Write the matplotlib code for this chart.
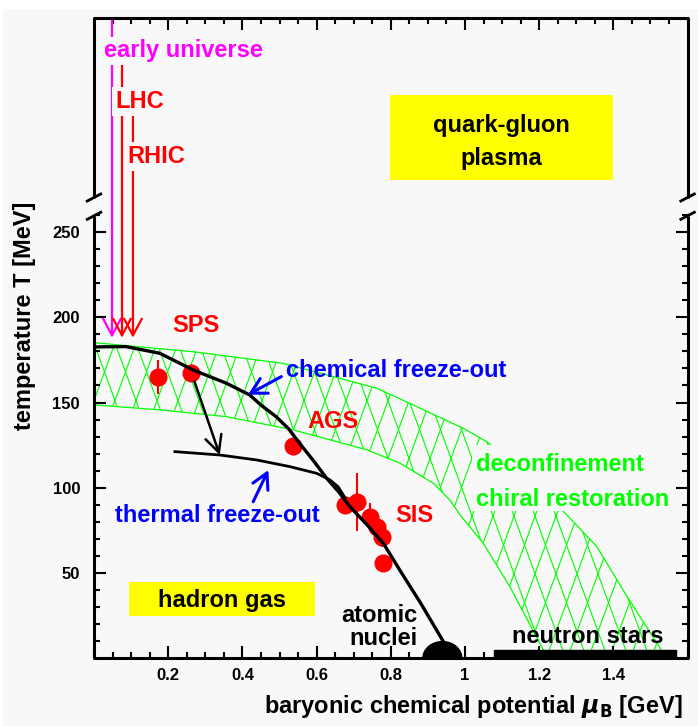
import numpy as np
import matplotlib
matplotlib.use("Agg")
import matplotlib.pyplot as plt
from matplotlib.lines import Line2D
from matplotlib.patches import Ellipse, Rectangle, Polygon
from matplotlib.ticker import MultipleLocator

W, H = 698, 726
BG = "#f8f8f8"
RED, BLUE, GREEN = "#ff0000", "#0000ff", "#00ff00"
MAGENTA, YELLOW = "#ff00ff", "#ffff00"

# chemical freeze-out line  (mu_B [GeV], T [MeV])
chem_mu = [0.0, 0.086, 0.177, 0.267, 0.357, 0.420, 0.450, 0.491, 0.525,
           0.554, 0.590, 0.627, 0.660, 0.690, 0.735, 0.780, 0.824, 0.880,
           0.942, 0.951]
chem_T = [182.6, 182.8, 178.9, 169.1, 161.3, 154.4, 148.5, 141.7, 134.5,
          126.1, 116.3, 105.6, 97.5, 88.9, 78.5, 67.4, 51.8, 32.5,
          9.7, 3.7]

# thermal freeze-out line
therm_mu = [0.218, 0.340, 0.439, 0.528, 0.600, 0.636, 0.658, 0.677]
therm_T = [121.2, 119.2, 116.3, 112.4, 108.5, 104.6, 100.6, 94.0]

# deconfinement / chiral restoration band
band_out_mu = [0.0, 0.267, 0.509, 0.645, 0.762, 0.870, 0.995, 1.058,
               1.170, 1.274, 1.355, 1.436, 1.526, 1.536]
band_out_T = [185.1, 179.8, 173.0, 165.2, 158.4, 147.6, 134.9, 127.1,
              107.0, 84.2, 65.6, 36.5, 6.0, 0.0]
band_in_mu = [0.0, 0.177, 0.357, 0.536, 0.735, 0.825, 0.915, 0.960,
              0.987, 1.049, 1.121, 1.211, 1.230]
band_in_T = [148.6, 145.7, 141.7, 134.0, 122.3, 114.4, 102.6, 92.6,
             84.0, 67.5, 42.0, 4.9, 0.0]

# freeze-out points
pts_mu = [0.173, 0.261, 0.536, 0.677, 0.708, 0.745, 0.762, 0.776, 0.778]
pts_T = [165.0, 167.3, 124.6, 90.0, 91.5, 83.0, 77.0, 71.0, 56.0]
pts_Terr = [10.0, 0.0, 0.0, 0.0, 17.0, 8.0, 0.0, 6.0, 0.0]
pts_muerr = [0.0, 0.0, 0.0, 0.0, 0.0, 0.010, 0.0, 0.012, 0.0]

# trajectories coming down from high temperature
beam_names = ["early universe", "LHC", "RHIC"]
beam_colors = [MAGENTA, RED, RED]
beam_mu = [0.0485, 0.0755, 0.105]
beam_start = [375.5, 351.1, 319.8]
beam_end = 188.0
beam_label_mu = [0.027, 0.0566, 0.089]
beam_label_T = [352.4, 322.6, 290.3]

# nuclei and neutron stars at T ~ 0
nuclei_mu = 0.939
nstar_mu = [1.078, 1.569]
nstar_T = 5.0

plt.rcParams["font.family"] = ["Liberation Sans", "DejaVu Sans"]
plt.rcParams["font.weight"] = "bold"

fig = plt.figure(figsize=(W / 100, H / 100), dpi=100, facecolor=BG)
X0, X1, YB, YT = 94.0, 687.6, 658.3, 18.0
ax = fig.add_axes([X0 / W, 1 - YB / H, (X1 - X0) / W, (YB - YT) / H])
ax.set_facecolor("none")
ax.set_xlim(0, 1.6)
ax.set_ylim(0, 375.5)
SX = (X1 - X0) / 1.6      # pixels per GeV
SY = (YB - YT) / 375.5    # pixels per MeV
for sp in ax.spines.values():
    sp.set_visible(False)

# ticks
ax.set_xticks([0.2, 0.4, 0.6, 0.8, 1.0, 1.2, 1.4])
ax.set_xticklabels(["0.2", "0.4", "0.6", "0.8", "1", "1.2", "1.4"])
ax.xaxis.set_minor_locator(MultipleLocator(0.05))
ax.set_yticks([50, 100, 150, 200, 250])
ax.set_yticks([v for v in range(10, 261, 10) if v % 50], minor=True)
ax.tick_params(which="both", direction="in", top=True, right=True,
               width=1.5, labelsize=12)
ax.tick_params(which="major", length=8.6)
ax.tick_params(which="minor", length=4.3)
ax.tick_params(axis="y", pad=10)
ax.tick_params(axis="x", pad=7)


def fpx(x, y):
    return x / W, 1 - y / H


def fig_line(xs, ys, lw=2.2):
    fx, fy = zip(*[fpx(x, y) for x, y in zip(xs, ys)])
    fig.add_artist(Line2D(fx, fy, color="black", lw=lw,
                          solid_capstyle="butt", transform=fig.transFigure))


# frame with the broken temperature axis
fig_line([X0 - 1, X1 + 1], [YB, YB])
fig_line([X0 - 1, X1 + 1], [YT, YT])
for xs in (X0, X1):
    fig_line([xs, xs], [YB, 215.8])
    fig_line([xs, xs], [197.5, YT])
    for yb in (197.5, 215.8):
        fig_line([xs - 8, xs + 8], [yb + 4.2, yb - 4.2], lw=2.0)

# hatched band: two families of steep lines (+-70 deg on screen), clipped to the band
band_poly = Polygon(np.column_stack([band_out_mu + band_in_mu[::-1],
                                     band_out_T + band_in_T[::-1]]),
                    closed=True, facecolor="none", edgecolor="none")
ax.add_patch(band_poly)
ax.plot(band_out_mu, band_out_T, color=GREEN, lw=0.9, zorder=1)
ax.plot(band_in_mu, band_in_T, color=GREEN, lw=0.9, zorder=1)
PITCH = 21.0                    # px between parallel hatch lines
TAN = np.tan(np.radians(20))
yy = np.array([-50.0, 250.0]) * SY
for sgn, c0 in ((1, 21.0 - 315.3 * TAN), (-1, 21.0 + 315.3 * TAN)):
    for k in range(-40, 60):
        xx = c0 + k * PITCH + sgn * yy * TAN
        ln, = ax.plot(xx / SX, yy / SY, color=GREEN, lw=0.8, zorder=1)
        ln.set_clip_path(band_poly)

ax.add_patch(Rectangle((1.019, 86.4), 0.539, 38.6, facecolor=BG,
                       edgecolor="none", zorder=2))
ax.text(1.030, 110.0, "deconfinement", color=GREEN, fontsize=17, zorder=6)
ax.text(1.030, 89.5, "chiral restoration", color=GREEN, fontsize=17, zorder=6)

# freeze-out data
ax.errorbar(pts_mu, pts_T, yerr=pts_Terr, xerr=pts_muerr, fmt="o",
            color=RED, ms=12, elinewidth=1.5, capsize=0, zorder=3)

# freeze-out lines
ax.plot(chem_mu, chem_T, color="black", lw=2.4, zorder=4)
ax.plot(therm_mu, therm_T, color="black", lw=2.0, zorder=4)
ax.annotate("", xy=(0.339, 119.2), xytext=(0.271, 162.2),
            arrowprops=dict(arrowstyle="->,head_length=0.6,head_width=0.3",
                            color="black", lw=1.8, shrinkA=0, shrinkB=0,
                            mutation_scale=20), zorder=4)

# beams
for name, c, mu, top, lmu, lT in zip(beam_names, beam_colors, beam_mu,
                                     beam_start, beam_label_mu, beam_label_T):
    ax.annotate("", xy=(mu, beam_end), xytext=(mu, top),
                arrowprops=dict(arrowstyle="->,head_length=0.6,head_width=0.32",
                                color=c, lw=1.6, shrinkA=0, shrinkB=0,
                                mutation_scale=20), zorder=4)
    ax.text(lmu, lT, name, color=c, fontsize=17, zorder=6,
            bbox=dict(facecolor=BG, edgecolor="none", pad=2))

# blue pointers
ax.annotate("", xy=(0.415, 154.6), xytext=(0.505, 165.2),
            arrowprops=dict(arrowstyle="->,head_length=0.55,head_width=0.3",
                            color=BLUE, lw=2.2, shrinkA=0, shrinkB=0,
                            mutation_scale=20), zorder=5)
ax.annotate("", xy=(0.470, 110.4), xytext=(0.429, 91.8),
            arrowprops=dict(arrowstyle="->,head_length=0.55,head_width=0.3",
                            color=BLUE, lw=2.2, shrinkA=0, shrinkB=0,
                            mutation_scale=20), zorder=5)
ax.text(0.5175, 164.9, "chemical freeze-out", color=BLUE, fontsize=17, zorder=6)
ax.text(0.0566, 80.1, "thermal freeze-out", color=BLUE, fontsize=17, zorder=6)

# accelerator labels
ax.text(0.210, 191.6, "SPS", color=RED, fontsize=17, zorder=6)
ax.text(0.574, 134.9, "AGS", color=RED, fontsize=17, zorder=6)
ax.text(0.811, 80.1, "SIS", color=RED, fontsize=17, zorder=6)

# phases
ax.add_patch(Rectangle((0.798, 280.6), 0.601, 49.8, facecolor=YELLOW,
                       edgecolor="none", zorder=2))
ax.text(1.098, 308.7, "quark-gluon", ha="center", fontsize=17, zorder=6)
ax.text(1.098, 289.3, "plasma", ha="center", fontsize=17, zorder=6)
ax.add_patch(Rectangle((0.094, 24.8), 0.502, 19.9, facecolor=YELLOW,
                       edgecolor="none", zorder=2))
ax.text(0.345, 30.3, "hadron gas", ha="center", fontsize=17, zorder=6)

# nuclei and neutron stars
ax.add_patch(Ellipse((nuclei_mu, 0), 0.105, 19.6, color="black", zorder=5))
ax.text(0.871, 21.5, "atomic", ha="right", fontsize=17, zorder=6)
ax.text(0.871, 7.8, "nuclei", ha="right", fontsize=17, zorder=6)
ax.fill_between(nstar_mu, 0, nstar_T, color="black", zorder=5)
ax.text(1.127, 8.8, "neutron stars", fontsize=17, zorder=6)

# axis titles
fig.text(683 / W, 1 - 713 / H, r"baryonic chemical potential $\mu_\mathrm{B}$ [GeV]",
         ha="right", va="baseline", fontsize=17)
fig.text(25 / W, 1 - 316 / H, "temperature T [MeV]", rotation=90,
         ha="center", va="center", fontsize=17)

# white margin at top and left
fig.add_artist(Rectangle((0, 1 - 9 / H), 1, 9 / H, facecolor="white",
                         edgecolor="none", transform=fig.transFigure))
fig.add_artist(Rectangle((0, 0), 3 / W, 1, facecolor="white",
                         edgecolor="none", transform=fig.transFigure))

fig.savefig("out.png", dpi=100, facecolor=BG)
